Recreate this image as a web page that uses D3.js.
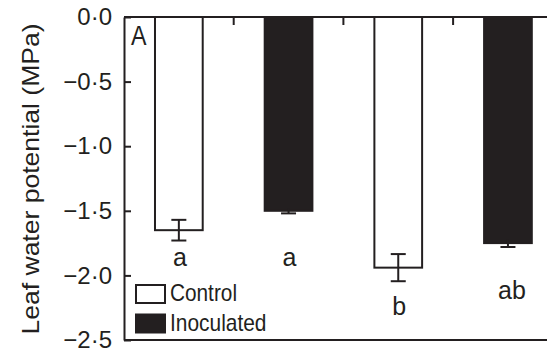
<!DOCTYPE html>
<html>
<head>
<meta charset="utf-8">
<script src="https://cdn.jsdelivr.net/npm/d3@7"></script>
<style>
  html, body { margin: 0; padding: 0; background: #fff; }
  svg { display: block; font-family: "Liberation Sans", Arial, sans-serif; }
</style>
</head>
<body>
<div id="chart"></div>
<script>
// values (MPa)
const groups = ["c1", "i1", "c2", "i2"];
const treatment = ["Control", "Inoculated", "Control", "Inoculated"];
const means = [-1.65, -1.50, -1.94, -1.75];
const errs = [0.08, 0.02, 0.105, 0.03];
const letters = ["a", "a", "b", "ab"];
const letterAt = [-1.93, -1.93, -2.31, -2.18];
const yTicks = [0, -0.5, -1.0, -1.5, -2.0, -2.5];
const legendItems = ["Control", "Inoculated"];

const width = 547, height = 352;
const ink = "#231f20";
const margin = { top: 17, left: 124, bottom: 12 };

const svg = d3.select("#chart").append("svg")
  .attr("width", width)
  .attr("height", height);

const x = d3.scaleBand()
  .domain(groups)
  .range([margin.left, margin.left + 4 * 109.7])
  .paddingInner(0.565)
  .paddingOuter(0.2825);

const y = d3.scaleLinear()
  .domain([-2.5, 0])
  .range([height - margin.bottom, margin.top]);

const fmt = v => d3.format(".1f")(v).replace(".", "·");

// bars
svg.append("g")
  .selectAll("rect")
  .data(groups)
  .join("rect")
  .attr("x", d => x(d))
  .attr("width", x.bandwidth())
  .attr("y", y(0))
  .attr("height", (d, i) => y(means[i]) - y(0))
  .attr("fill", (d, i) => treatment[i] === "Control" ? "#fff" : ink)
  .attr("stroke", ink)
  .attr("stroke-width", 2);

// error bars
const cap = 7.5;
const eb = svg.append("g").attr("stroke", ink).attr("stroke-width", 2);
groups.forEach((g, i) => {
  const cx = x(g) + x.bandwidth() / 2;
  const lo = y(means[i] - errs[i]), hi = y(means[i] + errs[i]);
  eb.append("line").attr("x1", cx).attr("x2", cx).attr("y1", hi).attr("y2", lo);
  eb.append("line").attr("x1", cx - cap).attr("x2", cx + cap).attr("y1", lo).attr("y2", lo);
  if (treatment[i] === "Control")
    eb.append("line").attr("x1", cx - cap).attr("x2", cx + cap).attr("y1", hi).attr("y2", hi);
});

// significance letters
svg.append("g")
  .selectAll("text")
  .data(groups)
  .join("text")
  .attr("x", (d, i) => x(d) + x.bandwidth() / 2 + (letters[i].length > 1 ? 4 : 1))
  .attr("y", (d, i) => y(letterAt[i]))
  .attr("text-anchor", "middle")
  .attr("font-size", 25)
  .attr("fill", ink)
  .text((d, i) => letters[i]);

// frame: top and bottom lines run off the right edge
svg.append("line")
  .attr("x1", margin.left).attr("x2", width)
  .attr("y1", y(0)).attr("y2", y(0))
  .attr("stroke", ink).attr("stroke-width", 2);
svg.append("line")
  .attr("x1", margin.left).attr("x2", width)
  .attr("y1", y(-2.5)).attr("y2", y(-2.5))
  .attr("stroke", ink).attr("stroke-width", 2);

// category separators on the top edge
const step = x.step();
svg.append("g")
  .selectAll("line")
  .data(groups.slice(0, -1))
  .join("line")
  .attr("x1", d => x(d) + x.bandwidth() / 2 + step / 2)
  .attr("x2", d => x(d) + x.bandwidth() / 2 + step / 2)
  .attr("y1", y(0)).attr("y2", y(0) + 8)
  .attr("stroke", ink).attr("stroke-width", 2);

// y axis
const yAxis = svg.append("g")
  .attr("transform", `translate(${margin.left},0)`)
  .call(d3.axisLeft(y).tickValues(yTicks).tickFormat(fmt)
    .tickSizeInner(-7).tickSizeOuter(0).tickPadding(12));
yAxis.select(".domain").attr("stroke", ink).attr("stroke-width", 2);
yAxis.selectAll(".tick line").attr("stroke", ink).attr("stroke-width", 2);
yAxis.selectAll(".tick text")
  .attr("font-size", 24)
  .attr("font-family", "Liberation Sans, Arial, sans-serif")
  .attr("fill", ink);

// y label
svg.append("text")
  .attr("transform", `translate(39,${(y(0) + y(-2.5)) / 2 + 0.5}) rotate(-90)`)
  .attr("text-anchor", "middle")
  .attr("font-size", 24.5)
  .attr("textLength", 311)
  .attr("lengthAdjust", "spacingAndGlyphs")
  .attr("fill", ink)
  .text("Leaf water potential (MPa)");

// panel letter
svg.append("text")
  .attr("x", 131)
  .attr("y", 45)
  .attr("font-size", 27)
  .attr("textLength", 15.5)
  .attr("lengthAdjust", "spacingAndGlyphs")
  .attr("fill", ink)
  .text("A");

// legend
const legend = svg.append("g").attr("transform", "translate(136,285)");
const li = legend.selectAll("g")
  .data(legendItems)
  .join("g")
  .attr("transform", (d, i) => `translate(0,${i * 29.5})`);
li.append("rect")
  .attr("width", 29)
  .attr("height", 18)
  .attr("fill", d => d === "Control" ? "#fff" : ink)
  .attr("stroke", ink)
  .attr("stroke-width", 2);
li.append("text")
  .attr("x", 34)
  .attr("y", 16)
  .attr("font-size", 24)
  .attr("textLength", d => d === "Control" ? 67 : 96.5)
  .attr("lengthAdjust", "spacingAndGlyphs")
  .attr("fill", ink)
  .text(d => d);
</script>
</body>
</html>
